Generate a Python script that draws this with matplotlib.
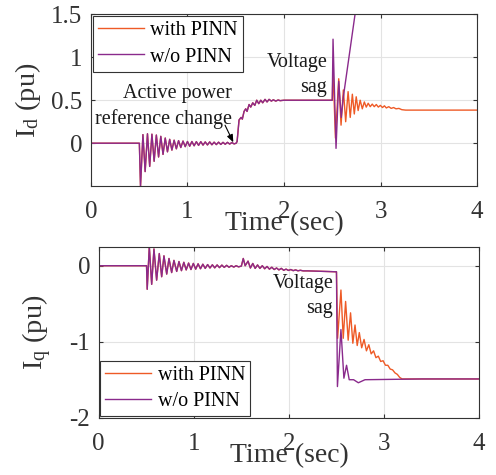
import matplotlib
matplotlib.use('Agg')
import matplotlib.pyplot as plt

plt.rcParams['font.family'] = ['Liberation Serif', 'DejaVu Serif']
plt.rcParams['mathtext.fontset'] = 'custom'
plt.rcParams['mathtext.rm'] = 'Liberation Serif'
plt.rcParams['mathtext.it'] = 'Liberation Serif:italic'
plt.rcParams['axes.unicode_minus'] = False

# Id, common part (both controllers identical before the sag)
t_id_pre = [0.0, 0.503, 0.515, 0.54, 0.563, 0.587, 0.61, 0.633, 0.656, 0.679, 0.702,
            0.725, 0.748, 0.771, 0.794, 0.817, 0.84, 0.863, 0.886, 0.909, 0.932,
            0.955, 0.978, 1.001, 1.024, 1.047, 1.07, 1.093, 1.116, 1.139, 1.162,
            1.185, 1.208, 1.231, 1.254, 1.277, 1.30, 1.323, 1.346, 1.369, 1.392,
            1.415, 1.438, 1.461, 1.484, 1.505, 1.515, 1.535, 1.556, 1.569, 1.587,
            1.604, 1.618, 1.639, 1.656, 1.677, 1.698, 1.718, 1.739, 1.76, 1.78,
            1.804, 1.825, 1.846, 1.87, 1.89, 1.915, 1.94, 1.96, 2.0, 2.5]
id_pre = [0.0, 0.0, -0.5, 0.10, -0.33, 0.11, -0.27, 0.105, -0.21, 0.095, -0.16,
          0.08, -0.13, 0.06, -0.10, 0.045, -0.08, 0.035, -0.065, 0.03, -0.05,
          0.025, -0.04, 0.02, -0.035, 0.02, -0.03, 0.018, -0.025, 0.018, -0.022,
          0.015, -0.02, 0.015, -0.018, 0.012, -0.016, 0.012, -0.014, 0.01, -0.012,
          0.01, -0.01, 0.008, -0.008, 0.0, 0.02, 0.27, 0.30, 0.28, 0.37,
          0.40, 0.37, 0.45, 0.42, 0.47, 0.44, 0.50, 0.46, 0.50, 0.47,
          0.51, 0.48, 0.51, 0.49, 0.505, 0.49, 0.503, 0.495, 0.50, 0.50]

# Id after the voltage sag
t_id_with = [2.5, 2.508, 2.533, 2.567, 2.591, 2.615, 2.639, 2.664, 2.686, 2.708,
             2.728, 2.748, 2.768, 2.789, 2.811, 2.832, 2.852, 2.872, 2.893, 2.914,
             2.935, 2.956, 2.977, 2.998, 3.02, 3.04, 3.06, 3.085, 3.11, 3.135,
             3.16, 3.19, 3.22, 3.26, 4.0]
id_with = [0.5, 0.865, 0.06, 0.75, 0.21, 0.62, 0.25, 0.60, 0.30, 0.57,
           0.34, 0.54, 0.38, 0.50, 0.40, 0.48, 0.42, 0.465, 0.425, 0.455,
           0.425, 0.45, 0.42, 0.44, 0.415, 0.435, 0.41, 0.425, 0.405, 0.415,
           0.40, 0.405, 0.39, 0.385, 0.385]
t_id_wo = [2.5, 2.508, 2.539, 2.567, 2.593, 2.615, 2.736, 4.0]
id_wo = [0.5, 1.21, -0.06, 0.72, 0.30, 0.54, 1.5, 1.5]

# Iq, common part
t_iq_pre = [0.0, 0.503, 0.51, 0.532, 0.557, 0.581, 0.609, 0.637, 0.662, 0.686,
            0.715, 0.739, 0.767, 0.791, 0.82, 0.844, 0.87, 0.895, 0.92, 0.945,
            0.97, 0.995, 1.02, 1.045, 1.07, 1.095, 1.12, 1.145, 1.17, 1.195,
            1.22, 1.245, 1.27, 1.295, 1.32, 1.345, 1.37, 1.395, 1.42, 1.445,
            1.47, 1.50, 1.52, 1.54, 1.57, 1.595, 1.62, 1.645, 1.67, 1.695,
            1.72, 1.745, 1.77, 1.795, 1.82, 1.845, 1.87, 1.895, 1.92, 1.945,
            1.97, 1.995, 2.02, 2.045, 2.07, 2.095, 2.12, 2.15, 2.2, 2.3, 2.4, 2.5]
iq_pre = [0.0, 0.0, -0.31, 0.25, -0.245, 0.22, -0.19, 0.16, -0.145, 0.13,
          -0.11, 0.095, -0.09, 0.07, -0.075, 0.055, -0.065, 0.045, -0.055, 0.035,
          -0.05, 0.03, -0.045, 0.025, -0.04, 0.02, -0.035, 0.015, -0.03, 0.012,
          -0.028, 0.01, -0.025, 0.008, -0.022, 0.005, -0.02, 0.0, -0.018, 0.0,
          -0.015, -0.005, 0.095, 0.0, 0.06, -0.03, 0.03, -0.035, 0.01, -0.035,
          0.0, -0.04, -0.01, -0.045, -0.02, -0.05, -0.03, -0.055, -0.035, -0.06,
          -0.045, -0.062, -0.05, -0.065, -0.055, -0.067, -0.06, -0.068, -0.068, -0.072, -0.076, -0.08]

# Iq after the voltage sag
t_iq_with = [2.5, 2.512, 2.547, 2.571, 2.596, 2.623, 2.648, 2.672, 2.695, 2.718,
             2.74, 2.765, 2.79, 2.815, 2.84, 2.865, 2.89, 2.915, 2.94, 2.965,
             2.99, 3.015, 3.04, 3.065, 3.09, 3.115, 3.14, 3.165, 3.19, 4.0]
iq_with = [-0.08, -0.955, -0.32, -0.955, -0.47, -0.98, -0.62, -1.02, -0.78, -1.05,
           -0.88, -1.08, -0.97, -1.12, -1.04, -1.16, -1.12, -1.21, -1.19, -1.26,
           -1.25, -1.31, -1.31, -1.36, -1.37, -1.41, -1.43, -1.47, -1.49, -1.49]
t_iq_wo = [2.5, 2.51, 2.547, 2.578, 2.606, 2.634, 2.68, 2.73, 2.80, 3.4, 4.0]
iq_wo = [-0.08, -1.59, -0.84, -1.48, -1.31, -1.50, -1.50, -1.54, -1.50, -1.49, -1.49]

c_with = '#EE5A26'
c_wo = '#8A2A8C'
c_axis = '#333333'

fig = plt.figure(figsize=(4.96, 4.75), dpi=100)
ax1 = fig.add_axes([0.183, 0.608, 0.779, 0.362])
ax2 = fig.add_axes([0.199, 0.1206, 0.767, 0.36])


def style(ax, ylim, yticks, ytl):
    ax.set_xlim(0, 4)
    ax.set_ylim(*ylim)
    ax.set_xticks([0, 1, 2, 3, 4])
    ax.set_yticks(yticks)
    ax.set_yticklabels(ytl)
    ax.grid(True, color='#e3e3e3', lw=0.8)
    ax.set_axisbelow(True)
    ax.tick_params(direction='in', top=True, right=True, length=3,
                   width=0.8, colors=c_axis, labelsize=18)
    ax.tick_params(axis='x', pad=11)
    ax.tick_params(axis='y', pad=6)
    for s in ax.spines.values():
        s.set_color(c_axis)
        s.set_linewidth(0.8)


def add_legend(ax, loc, anchor, pad):
    leg = ax.legend(loc=loc, bbox_to_anchor=anchor, borderaxespad=pad, fontsize=14.5,
                    fancybox=False, framealpha=1, edgecolor=c_axis, borderpad=0.25,
                    labelspacing=0.35, handlelength=2.3, handletextpad=0.3)
    leg.get_frame().set_linewidth(0.8)


# top: Id
ax1.plot(t_id_pre + t_id_with, id_pre + id_with, color=c_with, lw=1.0, label='with PINN')
ax1.plot(t_id_pre + t_id_wo, id_pre + id_wo, color=c_wo, lw=1.0, label='w/o PINN')
style(ax1, (-0.5, 1.5), [0, 0.5, 1, 1.5], ['0', '0.5', '1', '1.5'])
ax1.set_xlabel('Time (sec)', fontsize=20, color=c_axis, va='baseline')
ax1.xaxis.set_label_coords(0.5, -44 / 172)
ax1.set_ylabel(r'I$_{\rm d}$ (pu)', fontsize=20.5, color=c_axis, va='baseline')
ax1.yaxis.set_label_coords(-0.1455, 0.5)
add_legend(ax1, 'upper left', (0, 1), 0.1)
# va='baseline' on multi-line text anchors the last line
ax1.text(1.463, 0.22, 'Active power\nreference change', ha='right', va='baseline',
         fontsize=14.5, color='#1a1a1a', linespacing=1.45)
ax1.annotate('', xy=(1.476, 0.01), xytext=(1.39, 0.21),
             arrowprops=dict(arrowstyle='-|>,head_length=0.45,head_width=0.18',
                             color='black', lw=0.8, shrinkA=0, shrinkB=0))
ax1.text(2.449, 0.595, 'Voltage\nsag', ha='right', va='baseline',
         fontsize=14.5, color='#1a1a1a', linespacing=1.45)

# bottom: Iq
ax2.plot(t_iq_pre + t_iq_with, iq_pre + iq_with, color=c_with, lw=1.0, label='with PINN')
ax2.plot(t_iq_pre + t_iq_wo, iq_pre + iq_wo, color=c_wo, lw=1.0, label='w/o PINN')
style(ax2, (-2, 0.25), [-2, -1, 0], ['-2', '-1', '0'])
ax2.set_xlabel('Time (sec)', fontsize=20, color=c_axis, va='baseline')
ax2.xaxis.set_label_coords(0.5, -44 / 171)
ax2.set_ylabel(r'I$_{\rm q}$ (pu)', fontsize=20.5, color=c_axis, va='baseline')
ax2.yaxis.set_label_coords(-0.1456, 0.5)
add_legend(ax2, 'lower left', (0, 0), 0.07)
ax2.text(2.466, -0.626, 'Voltage\nsag', ha='right', va='baseline',
         fontsize=14.5, color='#1a1a1a', linespacing=1.45)

plt.savefig('out.png', dpi=100)
plt.close()
